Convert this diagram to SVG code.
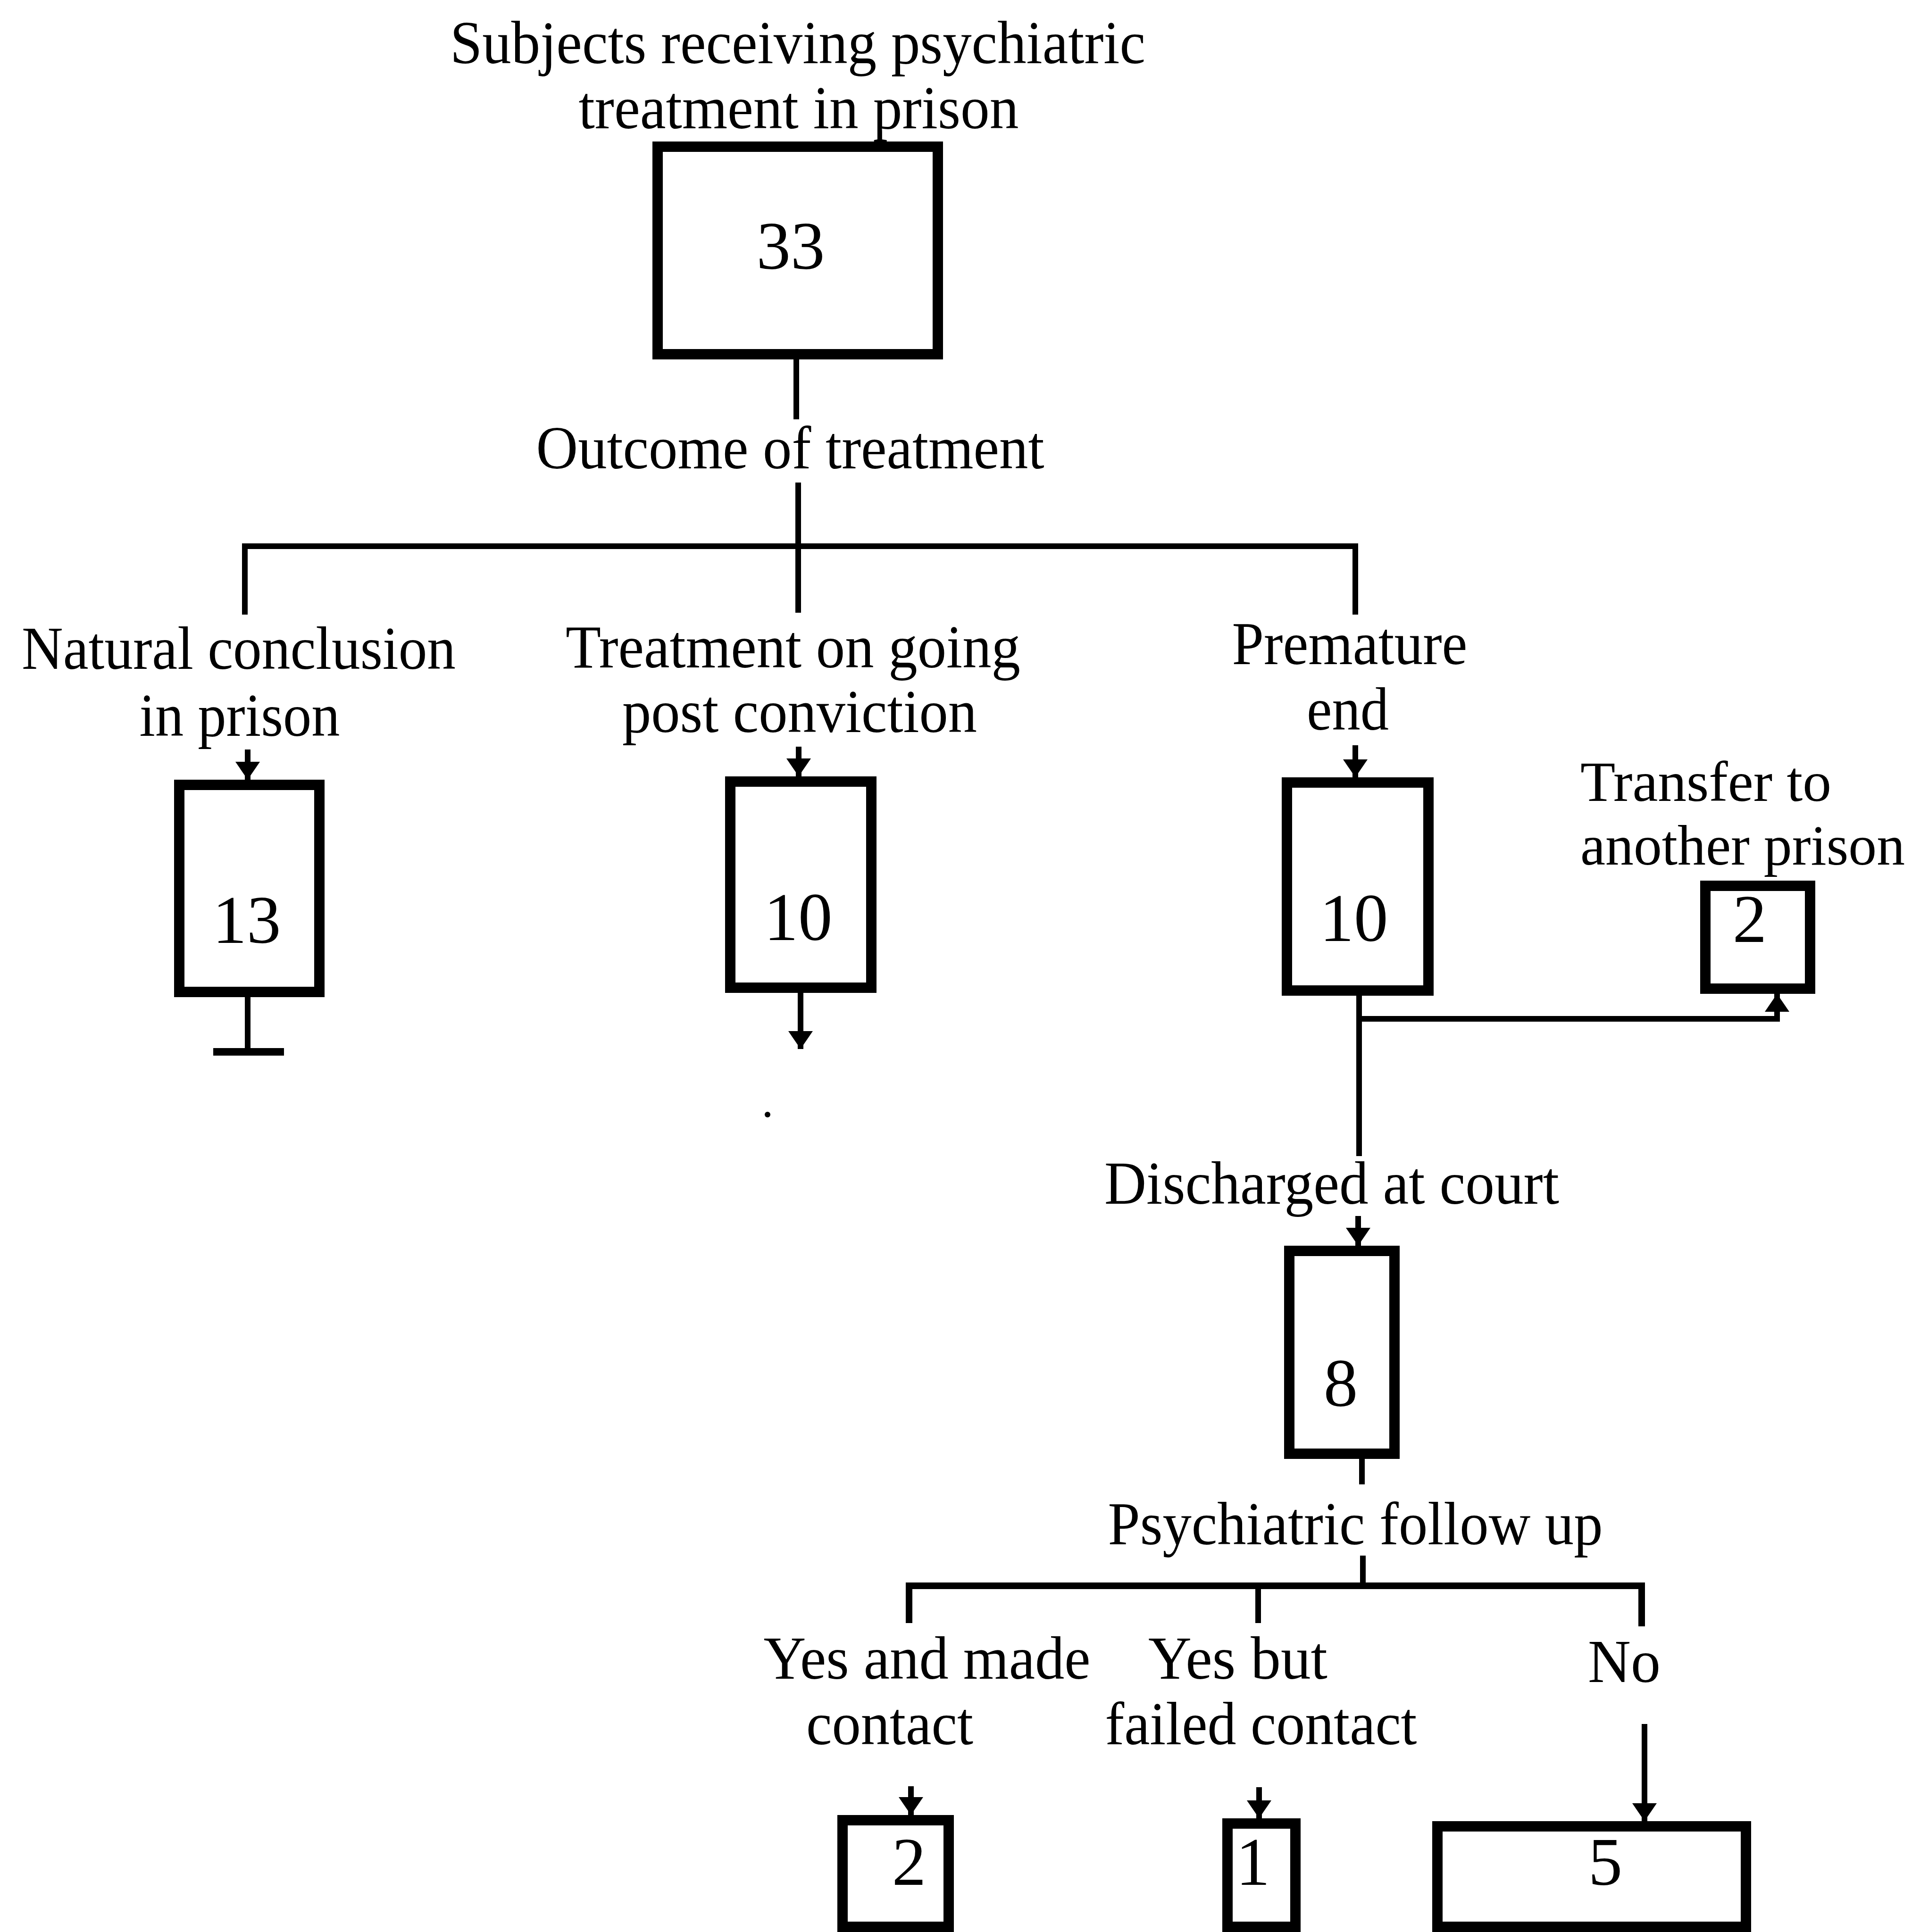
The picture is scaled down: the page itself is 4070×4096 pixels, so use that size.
<svg xmlns="http://www.w3.org/2000/svg" width="4070" height="4096" viewBox="0 0 4070 4096">
<style>
.box{fill:none;stroke:#000;stroke-width:22;stroke-linejoin:miter}
.ln{fill:none;stroke:#000;stroke-width:12;stroke-linejoin:miter}
.lbl{font-family:"Liberation Serif","Times New Roman",serif;font-size:130px;fill:#000;text-anchor:middle}
.num{font-family:"Liberation Serif","Times New Roman",serif;font-size:145px;fill:#000;text-anchor:middle}
</style>
<defs>
<marker id="ah" viewBox="0 0 38 52" refX="38" refY="26" markerWidth="38" markerHeight="52" markerUnits="userSpaceOnUse" orient="auto">
<path d="M0,0 L38,26 L0,52 z" fill="#000"/>
</marker>
</defs>
<rect width="4070" height="4096" fill="#fff"/>

<g id="connectors">
<line class="ln" x1="1688" y1="761" x2="1688" y2="889"/>
<line class="ln" x1="1692" y1="1023" x2="1692" y2="1299"/>
<polyline class="ln" points="519,1303 519,1158 2873,1158 2873,1303"/>
<line class="ln" x1="525" y1="1589" x2="525" y2="1653" marker-end="url(#ah)"/>
<line class="ln" x1="1693" y1="1583" x2="1693" y2="1646" marker-end="url(#ah)"/>
<line class="ln" x1="2873" y1="1580" x2="2873" y2="1648" marker-end="url(#ah)"/>
<line class="ln" x1="525" y1="2113" x2="525" y2="2230"/>
<line x1="452" y1="2230" x2="602" y2="2230" stroke="#000" stroke-width="16"/>
<line class="ln" x1="1697" y1="2104" x2="1697" y2="2224" marker-end="url(#ah)"/>
<line class="ln" x1="2881" y1="2111" x2="2881" y2="2451"/>
<polyline class="ln" points="2881,2160 3767,2160 3767,2107" marker-end="url(#ah)"/>
<line class="ln" x1="2879" y1="2578" x2="2879" y2="2641" marker-end="url(#ah)"/>
<line class="ln" x1="2887" y1="3093" x2="2887" y2="3147"/>
<line class="ln" x1="2889" y1="3298" x2="2889" y2="3362"/>
<polyline class="ln" points="1927,3441 1927,3362 3480,3362 3480,3448" style="stroke-width:14"/>
<line class="ln" x1="2667" y1="3362" x2="2667" y2="3441"/>
<line class="ln" x1="1931" y1="3787" x2="1931" y2="3848" marker-end="url(#ah)"/>
<line class="ln" x1="2669" y1="3789" x2="2669" y2="3855" marker-end="url(#ah)"/>
<line class="ln" x1="3486" y1="3655" x2="3486" y2="3861" marker-end="url(#ah)"/>
<circle cx="1627" cy="2363" r="6" fill="#000"/>
</g>

<g id="n33">
<text class="lbl" x="1691" y="134" textLength="1474" lengthAdjust="spacingAndGlyphs">Subjects receiving psychiatric</text>
<text class="lbl" x="1693" y="272" textLength="933" lengthAdjust="spacingAndGlyphs">treatment in prison</text>
<rect class="box" x="1394" y="311" width="594" height="440"/>
<text class="num" x="1676" y="570">33</text>
</g>

<g id="outcome">
<text class="lbl" x="1675" y="993" textLength="1077" lengthAdjust="spacingAndGlyphs">Outcome of treatment</text>
</g>

<g id="n13">
<text class="lbl" x="506" y="1418" textLength="920" lengthAdjust="spacingAndGlyphs">Natural conclusion</text>
<text class="lbl" x="508" y="1560" textLength="425" lengthAdjust="spacingAndGlyphs">in prison</text>
<rect class="box" x="380" y="1664" width="297" height="439"/>
<text class="num" x="523" y="1999">13</text>
</g>

<g id="n10a">
<text class="lbl" x="1681" y="1415" textLength="964" lengthAdjust="spacingAndGlyphs">Treatment on going</text>
<text class="lbl" x="1695" y="1552" textLength="752" lengthAdjust="spacingAndGlyphs">post conviction</text>
<rect class="box" x="1548" y="1657" width="299" height="437"/>
<text class="num" x="1692" y="1993">10</text>
</g>

<g id="n10b">
<text class="lbl" x="2861" y="1408" textLength="499" lengthAdjust="spacingAndGlyphs">Premature</text>
<text class="lbl" x="2857" y="1547" textLength="174" lengthAdjust="spacingAndGlyphs">end</text>
<rect class="box" x="2728" y="1659" width="300" height="441"/>
<text class="num" x="2870" y="1995">10</text>
</g>

<g id="n2transfer">
<text class="lbl" x="3350" y="1698" style="text-anchor:start;font-size:120px" textLength="532" lengthAdjust="spacingAndGlyphs">Transfer to</text>
<text class="lbl" x="3350" y="1833" style="text-anchor:start;font-size:120px" textLength="688" lengthAdjust="spacingAndGlyphs">another prison</text>
<rect class="box" x="3615" y="1878" width="222" height="218"/>
<text class="num" x="3709" y="1997">2</text>
</g>

<g id="n8">
<text class="lbl" x="2823" y="2552" textLength="964" lengthAdjust="spacingAndGlyphs">Discharged at court</text>
<rect class="box" x="2733" y="2652" width="223" height="430"/>
<text class="num" x="2842" y="2981">8</text>
</g>

<g id="followup">
<text class="lbl" x="2873" y="3274" textLength="1049" lengthAdjust="spacingAndGlyphs">Psychiatric follow up</text>
</g>

<g id="n2made">
<text class="lbl" x="1965" y="3559" textLength="693" lengthAdjust="spacingAndGlyphs">Yes and made</text>
<text class="lbl" x="1886" y="3698" textLength="354" lengthAdjust="spacingAndGlyphs">contact</text>
<rect class="box" x="1786" y="3859" width="225" height="226"/>
<text class="num" x="1927" y="3996">2</text>
</g>

<g id="n1failed">
<text class="lbl" x="2624" y="3559" textLength="380" lengthAdjust="spacingAndGlyphs">Yes but</text>
<text class="lbl" x="2673" y="3698" textLength="661" lengthAdjust="spacingAndGlyphs">failed contact</text>
<rect class="box" x="2602" y="3866" width="144" height="219"/>
<text class="num" x="2656" y="3996">1</text>
</g>

<g id="n5no">
<text class="lbl" x="3443" y="3566" textLength="154" lengthAdjust="spacingAndGlyphs">No</text>
<rect class="box" x="3047" y="3872" width="654" height="213"/>
<text class="num" x="3403" y="3996">5</text>
</g>
</svg>
